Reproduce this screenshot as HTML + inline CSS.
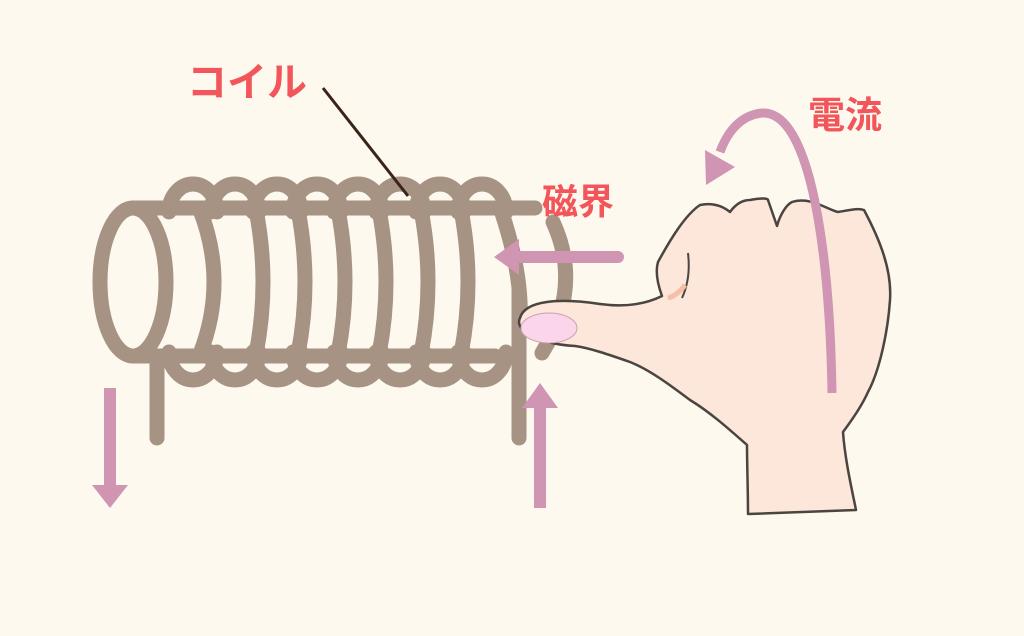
<!DOCTYPE html>
<html><head><meta charset="utf-8"><style>
html,body{margin:0;padding:0;background:#fdf9ee;}
svg{display:block}
text{font-family:"Liberation Sans","Noto Sans CJK JP",sans-serif;font-weight:bold;fill:#f2555a}
</style></head><body>
<svg width="1024" height="636" viewBox="0 0 1024 636">
<rect width="1024" height="636" fill="#fdf9ee"/>
<g fill="none" stroke="#a69384" stroke-width="15" stroke-linecap="round">
  <!-- top/bottom bumps -->
  <path d="M169,212 A24,28 0 0 1 217,212 M211,212 A24,28 0 0 1 259,212 M253,212 A24,28 0 0 1 301,212 M293,212 A24,28 0 0 1 341,212 M334,212 A24,28 0 0 1 382,212 M376,212 A24,28 0 0 1 424,212 M416,212 A24,28 0 0 1 464,212 M458,212 A24,28 0 0 1 506,212"/>
  <path d="M169,352 A24,28 0 0 0 217,352 M211,352 A24,28 0 0 0 259,352 M253,352 A24,28 0 0 0 301,352 M293,352 A24,28 0 0 0 341,352 M334,352 A24,28 0 0 0 382,352 M376,352 A24,28 0 0 0 424,352 M416,352 A24,28 0 0 0 464,352 M458,352 A24,28 0 0 0 506,352"/>
  <!-- cylinder -->
  <ellipse cx="133" cy="282" rx="33" ry="74"/>
  <line x1="133" y1="208" x2="535" y2="208"/>
  <line x1="133" y1="356" x2="495" y2="356"/>
  <!-- front arcs -->
  <path d="M200,210 Q228,282 200,354 M256,210 Q270,282 256,354 M298,210 Q312,282 298,354 M338,210 Q352,282 338,354 M379,210 Q393,282 379,354 M421,210 Q435,282 421,354 M461,210 Q475,282 461,354 M501,210 Q525,282 519,330"/>
  <!-- leads -->
  <line x1="157" y1="356" x2="157" y2="438"/>
  <line x1="519" y1="290" x2="519" y2="438"/>
  <path d="M553,222 Q583,287 542,353"/>
</g>
<!-- pink arrows -->
<g stroke="#cf95b3" stroke-width="12" fill="#cf95b3">
  <line x1="110" y1="388" x2="110" y2="488"/>
  <polygon points="92,485 128,485 110,508" stroke="none"/>
  <line x1="540" y1="508" x2="540" y2="405"/>
  <polygon points="522,408 558,408 540,383" stroke="none"/>
  <line x1="618" y1="257" x2="515" y2="257" stroke-linecap="round"/>
  <polygon points="519,239 519,275 494,257" stroke="none"/>
</g>
<!-- hand -->
<path d="M520,318 C525,300 560,298 600,304 C630,308 650,302 662,296 C658,285 655,272 658,262 C670,240 685,215 700,205 C715,202 725,208 730,212 C735,205 742,200 750,200 C760,198 768,198 768,200 L777,226 C780,215 786,205 792,202 C810,196 828,210 838,212 C850,210 858,208 864,210 C880,240 892,270 890,300 C888,330 880,370 868,392 C860,410 848,425 843,432 C845,460 852,490 856,510 L748,514 C748,490 747,465 747,445 C730,430 710,412 690,400 C670,385 650,370 630,362 C610,355 590,348 575,346 C555,345 535,340 525,332 C519,327 518,322 520,318 Z" fill="#fde6da" stroke="#4a4540" stroke-width="2.5" stroke-linejoin="round"/>
<path d="M688,253 C690,270 688,285 682,298" fill="none" stroke="#4a4540" stroke-width="2"/>
<path d="M685,285 C680,292 675,296 668,298" fill="none" stroke="#f5c0a5" stroke-width="5"/>
<ellipse cx="549" cy="328" rx="28" ry="15" fill="#fbd6ea" stroke="#caa0b0" stroke-width="1"/>
<!-- current arrow -->
<path d="M832,393 C830,260 812,110 762,113 C742,115 728,130 720,152" fill="none" stroke="#cf95b3" stroke-width="9"/>
<polygon points="705,150 735,167 706,185" fill="#cf95b3"/>
<!-- label line -->
<line x1="323" y1="88" x2="408" y2="196" stroke="#3a2418" stroke-width="3"/>
<text x="187" y="96" font-size="40">コイル</text>
<text x="542" y="214" font-size="36">磁界</text>
<text x="808" y="128" font-size="37">電流</text>
</svg>
</body></html>
